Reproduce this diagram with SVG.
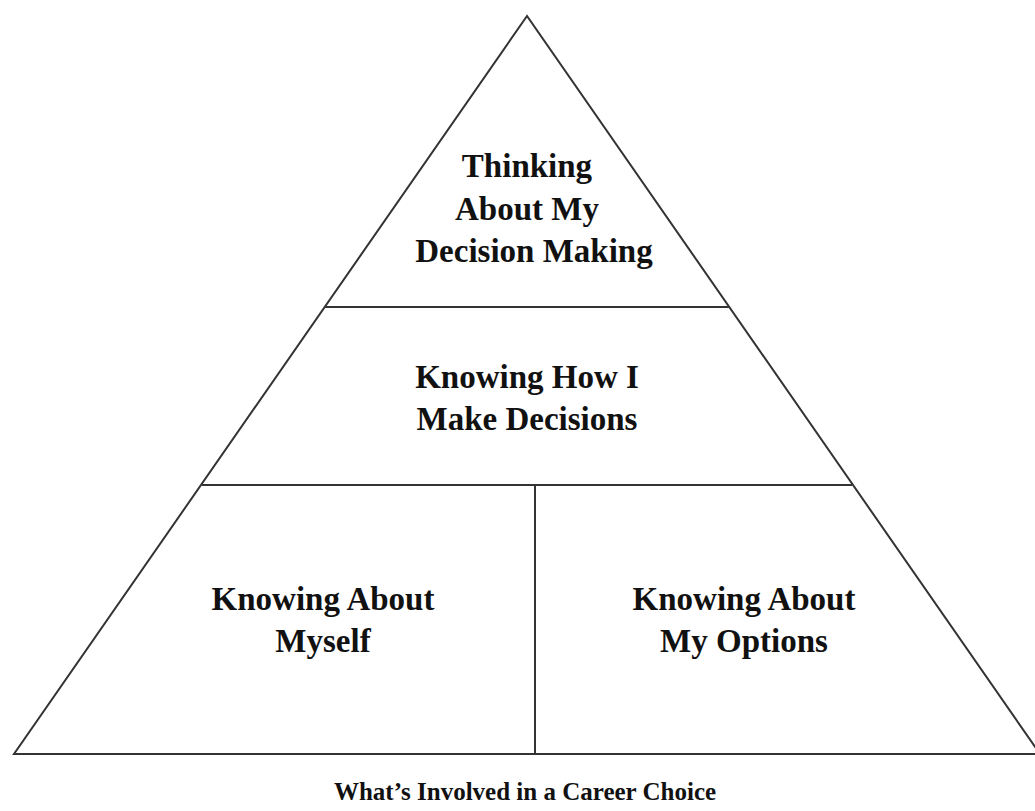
<svg xmlns="http://www.w3.org/2000/svg" width="1035" height="811" viewBox="0 0 1035 811">
<style>
.ln{stroke:#333;stroke-width:2;fill:none}
.t{font-family:"Liberation Serif","Times New Roman",serif;font-weight:bold;font-size:33px;fill:#111;text-anchor:middle}
.cap{font-family:"Liberation Serif","Times New Roman",serif;font-weight:bold;font-size:25px;fill:#111;text-anchor:middle}
</style>
<rect width="1035" height="811" fill="#fff"/>
<g id="connectors">
<polygon class="ln" points="527,16 14,754 1040,754"/>
<line class="ln" x1="325" y1="307" x2="729" y2="307"/>
<line class="ln" x1="202" y1="485" x2="852" y2="485"/>
<line class="ln" x1="535" y1="485" x2="535" y2="754"/>
</g>
<g id="top">
<text class="t" x="527" y="177">Thinking</text>
<text class="t" x="527" y="220">About My</text>
<text class="t" x="534" y="262">Decision Making</text>
</g>
<g id="middle">
<text class="t" x="527" y="388">Knowing How I</text>
<text class="t" x="527" y="430">Make Decisions</text>
</g>
<g id="left">
<text class="t" x="323" y="610">Knowing About</text>
<text class="t" x="323" y="652">Myself</text>
</g>
<g id="right">
<text class="t" x="744" y="610">Knowing About</text>
<text class="t" x="744" y="652">My Options</text>
</g>
<g id="caption">
<text class="cap" x="525" y="800">What’s Involved in a Career Choice</text>
</g>
</svg>
